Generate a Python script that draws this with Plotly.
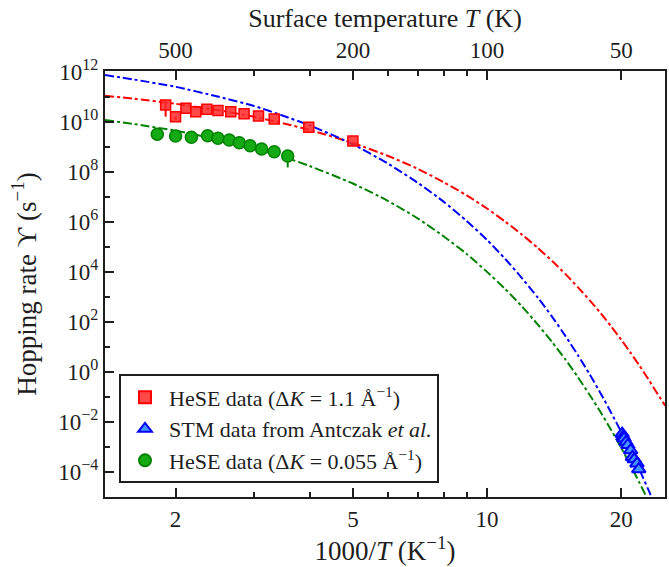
import plotly.graph_objects as go
import math

# ---------------- data ----------------
# HeSE data, dK = 1.1 A^-1  (x = 1000/T)
red_x = [1.90, 2.00, 2.11, 2.22, 2.35, 2.49, 2.66, 2.85, 3.07, 3.33, 3.98, 5.00]
red_y = [4.7e10, 1.6e10, 3.5e10, 2.5e10, 3.2e10, 2.8e10, 2.5e10, 2.1e10, 1.7e10, 1.3e10, 6.0e9, 1.7e9]
red_err_minus = [3.1e10, 0.4e10, 0, 0, 0, 0, 0, 0, 0, 0, 0, 0]
red_err_plus = [0.8e10, 0, 0, 0, 0, 0, 0, 0, 0, 0, 0, 0]

# STM data from Antczak et al.
blue_x = [20.1, 20.2, 20.3, 20.5, 20.7, 21.0, 21.2, 21.4, 21.7, 21.9]
blue_y = [3.4e-3, 2.6e-3, 2.2e-3, 1.6e-3, 1.2e-3, 7.4e-4, 4.0e-4, 3.2e-4, 2.2e-4, 1.3e-4]

# HeSE data, dK = 0.055 A^-1
green_x = [1.82, 2.00, 2.17, 2.36, 2.49, 2.64, 2.78, 2.94, 3.12, 3.33, 3.57]
green_y = [3.2e9, 2.7e9, 2.4e9, 2.75e9, 2.2e9, 1.86e9, 1.45e9, 1.1e9, 8.1e8, 6.3e8, 4.3e8]
green_err_minus = [0, 0, 0, 0, 0, 0, 0, 0, 0, 0, 2.8e8]
green_err_plus = [0, 0, 0, 0, 0, 0, 0, 0, 0, 0, 0.6e8]

# fitted curves (dash-dot)
fit_x = [1.389, 1.6, 2.0, 2.5, 3.0, 3.5, 4.0, 5.0, 6.0, 7.0, 8.0, 9.0, 10.0, 11.0, 12.0,
         13.0, 14.0, 15.0, 16.0, 17.0, 18.0, 19.0, 20.0, 21.0, 22.0, 23.0, 24.0, 25.1]
red_fit_y = [1.10e11, 8.5e10, 5.25e10, 2.9e10, 1.58e10, 8.6e9, 4.7e9, 1.41e9, 4.3e8, 1.3e8,
             3.8e7, 1.15e7, 3.4e6, 1.0e6, 3.0e5, 9.0e4, 2.7e4, 8.1e3, 2.4e3, 7.3e2,
             2.2e2, 65.0, 19.5, 5.8, 1.74, 0.52, 0.155, 0.045]
blue_fit_y = [7.4e11, 5.0e11, 2.5e11, 1.0e11, 4.3e10, 1.7e10, 7.2e9, 1.26e9, 2.1e8, 3.6e7,
              6.3e6, 1.08e6, 1.9e5, 3.2e4, 5.4e3, 9.3e2, 1.6e2, 27.0, 4.6, 0.79,
              0.135, 2.3e-2, 4.0e-3, 6.9e-4, 1.2e-4, 2.0e-5, 3.4e-6, 5.0e-7]
green_fit_y = [1.17e10, 8.3e9, 4.4e9, 1.95e9, 8.7e8, 3.9e8, 1.7e8, 3.4e7, 6.8e6, 1.35e6,
               2.6e5, 5.2e4, 1.0e4, 2.0e3, 4.0e2, 78.0, 15.5, 3.1, 0.61, 0.12,
               2.4e-2, 4.7e-3, 9.3e-4, 1.8e-4, 3.6e-5, 7.2e-6, 1.4e-6, 2.3e-7]

x_ticks = [2, 5, 10, 20]
x_ticktext = ["2", "5", "10", "20"]
x_minor = [3, 4, 6, 7, 8, 9]
top_ticktext = ["500", "200", "100", "50"]
y_ticks = [1e12, 1e10, 1e8, 1e6, 1e4, 1e2, 1e0, 1e-2, 1e-4]
y_ticktext = ["10<sup>12</sup>", "10<sup>10</sup>", "10<sup>8</sup>", "10<sup>6</sup>",
              "10<sup>4</sup>", "10<sup>2</sup>", "10<sup>0</sup>", "10<sup>−2</sup>",
              "10<sup>−4</sup>"]
y_minor = [1e11, 1e9, 1e7, 1e5, 1e3, 1e1, 1e-1, 1e-3, 1e-5]

x_range = [1.389, 25.08]
y_range = [-5, 12.03]

FONT = "Liberation Serif"
INK = "#1e1e1e"

fig = go.Figure()

# fit lines
for fy, col in [(red_fit_y, "red"), (blue_fit_y, "blue"), (green_fit_y, "green")]:
    fig.add_trace(go.Scatter(x=fit_x, y=fy, mode="lines",
                             line=dict(color=col, width=2, dash="dashdot", shape="spline",
                                       smoothing=0.6),
                             showlegend=False, hoverinfo="skip"))

fig.add_trace(go.Scatter(
    x=red_x, y=red_y, mode="markers", name="HeSE data (Δ<i>K</i> = 1.1 Å<sup>−1</sup>)",
    legendgroup="a",
    marker=dict(symbol="square", size=10, color="rgba(255,40,40,0.85)",
                line=dict(color="red", width=1.5)),
    error_y=dict(type="data", symmetric=False, array=red_err_plus, arrayminus=red_err_minus,
                 color="red", thickness=2, width=0)))

fig.add_trace(go.Scatter(
    x=blue_x, y=blue_y, mode="markers", name="STM data from Antczak <i>et al.</i>",
    legendgroup="b",
    marker=dict(symbol="triangle-up", size=12, color="rgb(70,150,255)",
                line=dict(color="blue", width=2))))

fig.add_trace(go.Scatter(
    x=green_x, y=green_y, mode="markers", name="HeSE data (Δ<i>K</i> = 0.055 Å<sup>−1</sup>)",
    legendgroup="c",
    marker=dict(symbol="circle", size=12, color="rgb(20,170,20)",
                line=dict(color="green", width=1.5)),
    error_y=dict(type="data", symmetric=False, array=green_err_plus, arrayminus=green_err_minus,
                 color="green", thickness=2, width=0)))

# dummy trace for the top axis
fig.add_trace(go.Scatter(x=[5], y=[1e3], xaxis="x2", mode="markers",
                         marker=dict(opacity=0), showlegend=False, hoverinfo="skip"))

lx = [math.log10(v) for v in x_range]

fig.update_layout(
    width=669, height=567,
    margin=dict(l=105, r=2, t=71, b=70),
    paper_bgcolor="white", plot_bgcolor="white",
    font=dict(family=FONT, size=23, color=INK),
    xaxis=dict(type="log", range=lx, tickvals=x_ticks, ticktext=x_ticktext,
               ticks="inside", ticklen=9, tickwidth=2, tickcolor=INK,
               minor=dict(tickvals=x_minor, ticks="inside", ticklen=5, tickwidth=1.5,
                          tickcolor=INK),
               showline=True, linewidth=2, linecolor=INK, mirror=True,
               showgrid=False, zeroline=False,
               title=dict(text="1000/<i>T</i> (K<sup>−1</sup>)", font=dict(size=27), standoff=1)),
    xaxis2=dict(type="log", range=lx, overlaying="x", side="top", anchor="y",
                tickvals=x_ticks, ticktext=top_ticktext, ticklabelstandoff=7,
                ticks="inside", ticklen=9, tickwidth=2, tickcolor=INK,
                minor=dict(tickvals=x_minor, ticks="inside", ticklen=5, tickwidth=1.5,
                           tickcolor=INK),
                showgrid=False, zeroline=False,
                title=dict(text="Surface temperature <i>T</i> (K)", font=dict(size=26), standoff=3)),
    yaxis=dict(type="log", range=y_range, tickvals=y_ticks, ticktext=y_ticktext,
               ticks="inside", ticklen=9, tickwidth=2, tickcolor=INK,
               minor=dict(tickvals=y_minor, ticks="inside", ticklen=5, tickwidth=1.5,
                          tickcolor=INK),
               showline=True, linewidth=2, linecolor=INK, mirror=True,
               showgrid=False, zeroline=False,
               title=dict(text="Hopping rate ϒ (s<sup>−1</sup>)", font=dict(size=27), standoff=14)),
    legend=dict(x=0.025, y=0.032, xanchor="left", yanchor="bottom",
                bgcolor="white", bordercolor=INK, borderwidth=2,
                font=dict(size=22), traceorder="grouped", tracegroupgap=0,
                itemsizing="constant", itemwidth=38),
    showlegend=True,
)

fig.write_html("out.html")
